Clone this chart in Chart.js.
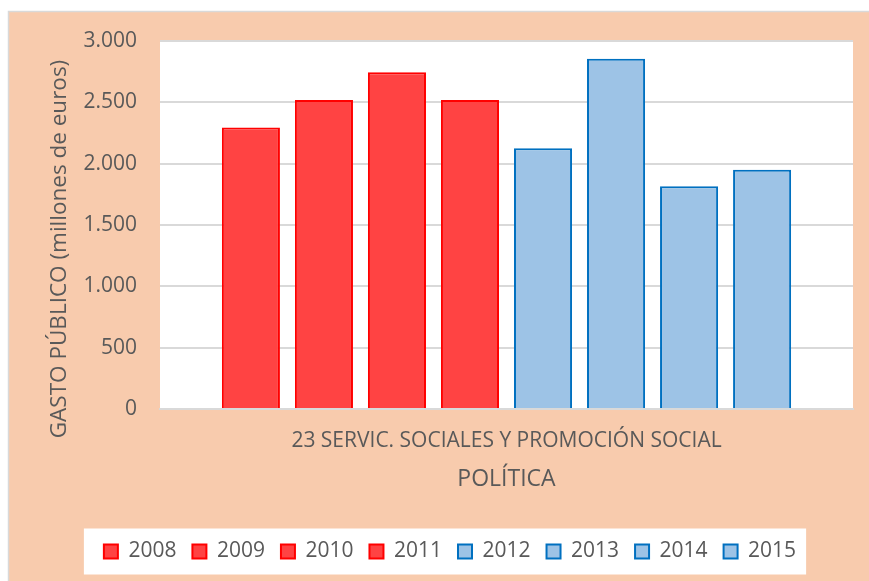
<!DOCTYPE html>
<html>
<head>
<meta charset="utf-8">
<script src="https://cdn.jsdelivr.net/npm/chart.js@4.4.1/dist/chart.umd.min.js"></script>
<style>
  html, body { margin: 0; padding: 0; background: #ffffff; }
  canvas { display: block; }
</style>
</head>
<body>
<canvas id="gasto" width="869" height="581"></canvas>
<script>
// Gasto público por año (millones de euros)
const categories = ['23 SERVIC. SOCIALES Y PROMOCIÓN SOCIAL'];
const years = ['2008', '2009', '2010', '2011', '2012', '2013', '2014', '2015'];
const values = [2295, 2520, 2745, 2520, 2125, 2855, 1815, 1950];
const yTicks = [0, 500, 1000, 1500, 2000, 2500, 3000];
const yTitle = 'GASTO PÚBLICO (millones de euros)';
const xTitle = 'POLÍTICA';

const TEXT = '#595959';
const RED_FILL = '#ff4343';
const RED_LINE = '#ff0000';
const BLUE_FILL = '#9dc3e6';
const BLUE_LINE = '#0070c0';

function fmtMiles(v) {
    return String(v).replace(/\B(?=(\d{3})+(?!\d))/g, '.');
}

// one dataset per year, red up to 2011 and blue afterwards
const datasets = years.map((y, i) => ({
    label: y,
    data: [values[i]],
    backgroundColor: i < 4 ? RED_FILL : BLUE_FILL,
    borderColor: i < 4 ? RED_LINE : BLUE_LINE,
    borderWidth: 2,
    borderSkipped: 'bottom',
    categoryPercentage: 0.843,
    barPercentage: 0.795
}));

// peach panel, white plot area and white legend box
const panelBackground = {
    id: 'panelBackground',
    beforeDraw(chart) {
        const ctx = chart.ctx;
        const area = chart.chartArea;
        ctx.save();
        ctx.fillStyle = '#f8cbad';
        ctx.fillRect(8, 11, chart.width - 8, chart.height - 11);
        ctx.strokeStyle = '#d9d9d9';
        ctx.lineWidth = 1.5;
        ctx.beginPath();
        ctx.moveTo(8.5, chart.height);
        ctx.lineTo(8.5, 11.5);
        ctx.lineTo(chart.width, 11.5);
        ctx.stroke();
        ctx.fillStyle = '#ffffff';
        ctx.fillRect(area.left, area.top, area.right - area.left, area.bottom - area.top);

        const boxes = chart.legend.legendHitBoxes;
        if (boxes && boxes.length) {
            const first = boxes[0];
            const last = boxes[boxes.length - 1];
            const x0 = first.left - 20;
            const x1 = last.left + last.width + 10;
            const cy = first.top + first.height / 2;
            ctx.fillRect(x0, cy - 23, x1 - x0, 46);
        }
        ctx.restore();
    }
};

// rotated value-axis title, sitting a little below the plot centre
const yAxisTitle = {
    id: 'yAxisTitle',
    afterDraw(chart) {
        const ctx = chart.ctx;
        const area = chart.chartArea;
        ctx.save();
        ctx.translate(60, (area.top + area.bottom) / 2 + 24);
        ctx.rotate(-Math.PI / 2);
        ctx.fillStyle = TEXT;
        ctx.font = '22.5px "Open Sans"';
        ctx.textAlign = 'center';
        ctx.textBaseline = 'middle';
        ctx.fillText(yTitle, 0, 0);
        ctx.restore();
    }
};

new Chart(document.getElementById('gasto'), {
    type: 'bar',
    data: {
        labels: categories,
        datasets: datasets
    },
    options: {
        responsive: false,
        animation: false,
        layout: {
            padding: { left: 47, right: 16, top: 41, bottom: 9 }
        },
        plugins: {
            legend: {
                display: true,
                position: 'bottom',
                labels: {
                    color: TEXT,
                    boxWidth: 14,
                    boxHeight: 14,
                    padding: 16,
                    font: { family: 'Open Sans', size: 21 }
                }
            },
            tooltip: { enabled: false }
        },
        scales: {
            x: {
                grid: { display: false, drawTicks: false },
                border: { display: true, color: '#d9d9d9', width: 2 },
                ticks: {
                    color: TEXT,
                    padding: 19,
                    font: { family: 'Open Sans', size: 21 }
                },
                title: {
                    display: true,
                    text: xTitle,
                    color: TEXT,
                    padding: { top: 8, bottom: 32 },
                    font: { family: 'Open Sans', size: 23 }
                },
                afterFit(scale) { scale.height = 116; }
            },
            y: {
                min: 0,
                max: 3000,
                afterBuildTicks(scale) {
                    scale.ticks = yTicks.map(v => ({ value: v }));
                },
                grid: { color: '#d9d9d9', lineWidth: 2, drawTicks: false },
                border: { display: false },
                ticks: {
                    color: TEXT,
                    padding: 23,
                    font: { family: 'Open Sans', size: 21 },
                    callback: (v) => fmtMiles(v)
                },
                afterFit(scale) { scale.width = 113; }
            }
        }
    },
    plugins: [panelBackground, yAxisTitle]
});
</script>
</body>
</html>
